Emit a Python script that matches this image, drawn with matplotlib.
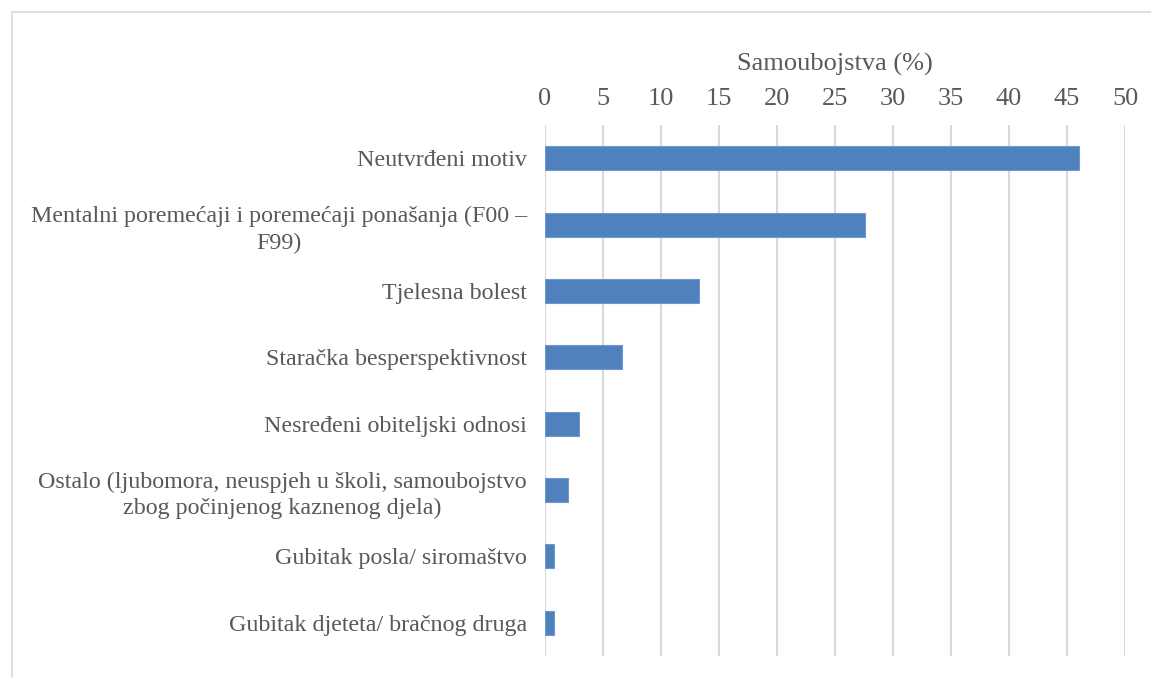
import matplotlib
matplotlib.use("Agg")
import matplotlib.pyplot as plt
from matplotlib.lines import Line2D

categories = [
    "Neutvrđeni motiv",
    "Mentalni poremećaji i poremećaji ponašanja (F00 –\nF99)",
    "Tjelesna bolest",
    "Staračka besperspektivnost",
    "Nesređeni obiteljski odnosi",
    "Ostalo (ljubomora, neuspjeh u školi, samoubojstvo\nzbog počinjenog kaznenog djela)",
    "Gubitak posla/ siromaštvo",
    "Gubitak djeteta/ bračnog druga",
]
values = [46.0, 27.6, 13.3, 6.6, 2.9, 2.0, 0.8, 0.8]
xticks = [0, 5, 10, 15, 20, 25, 30, 35, 40, 45, 50]
axis_title = "Samoubojstva (%)"

plt.rcParams['font.family'] = ['Liberation Serif', 'DejaVu Serif']
W, H = 1151, 678
fig = plt.figure(figsize=(W / 100, H / 100), dpi=100)
ax = fig.add_axes([545 / W, 1 - 656 / H, (1125 - 545) / W, (656 - 125) / H])

txt = '#595959'
y = list(range(len(categories)))
ax.barh(y, values, height=0.36, color='#4f81bd', edgecolor='#6f98cf', linewidth=0.8, zorder=3)
ax.set_ylim(len(categories) - 0.5, -0.5)
ax.set_xlim(0, 50)
ax.set_xticks(xticks)
ax.xaxis.tick_top()
ax.xaxis.set_label_position('top')
ax.set_xlabel(axis_title, fontsize=19, color=txt, labelpad=12)
ax.tick_params(axis='x', length=0, pad=11, labelsize=19, labelcolor=txt)
ax.set_yticks(y)
ax.set_yticklabels(categories, multialignment='center', linespacing=1.35)
ax.tick_params(axis='y', length=0, pad=13, labelsize=17.3, labelcolor=txt)
ax.grid(axis='x', color='#d9d9d9', linewidth=1.5, zorder=0)
for s in ax.spines.values():
    s.set_visible(False)

# outer frame (left and top)
fig.add_artist(Line2D([11.5 / W, 11.5 / W], [0, 1 - 11.5 / H], color='#d9d9d9', linewidth=1.2, transform=fig.transFigure))
fig.add_artist(Line2D([11.5 / W, 1], [1 - 11.5 / H, 1 - 11.5 / H], color='#d9d9d9', linewidth=1.2, transform=fig.transFigure))

fig.savefig("out.png", dpi=100)
